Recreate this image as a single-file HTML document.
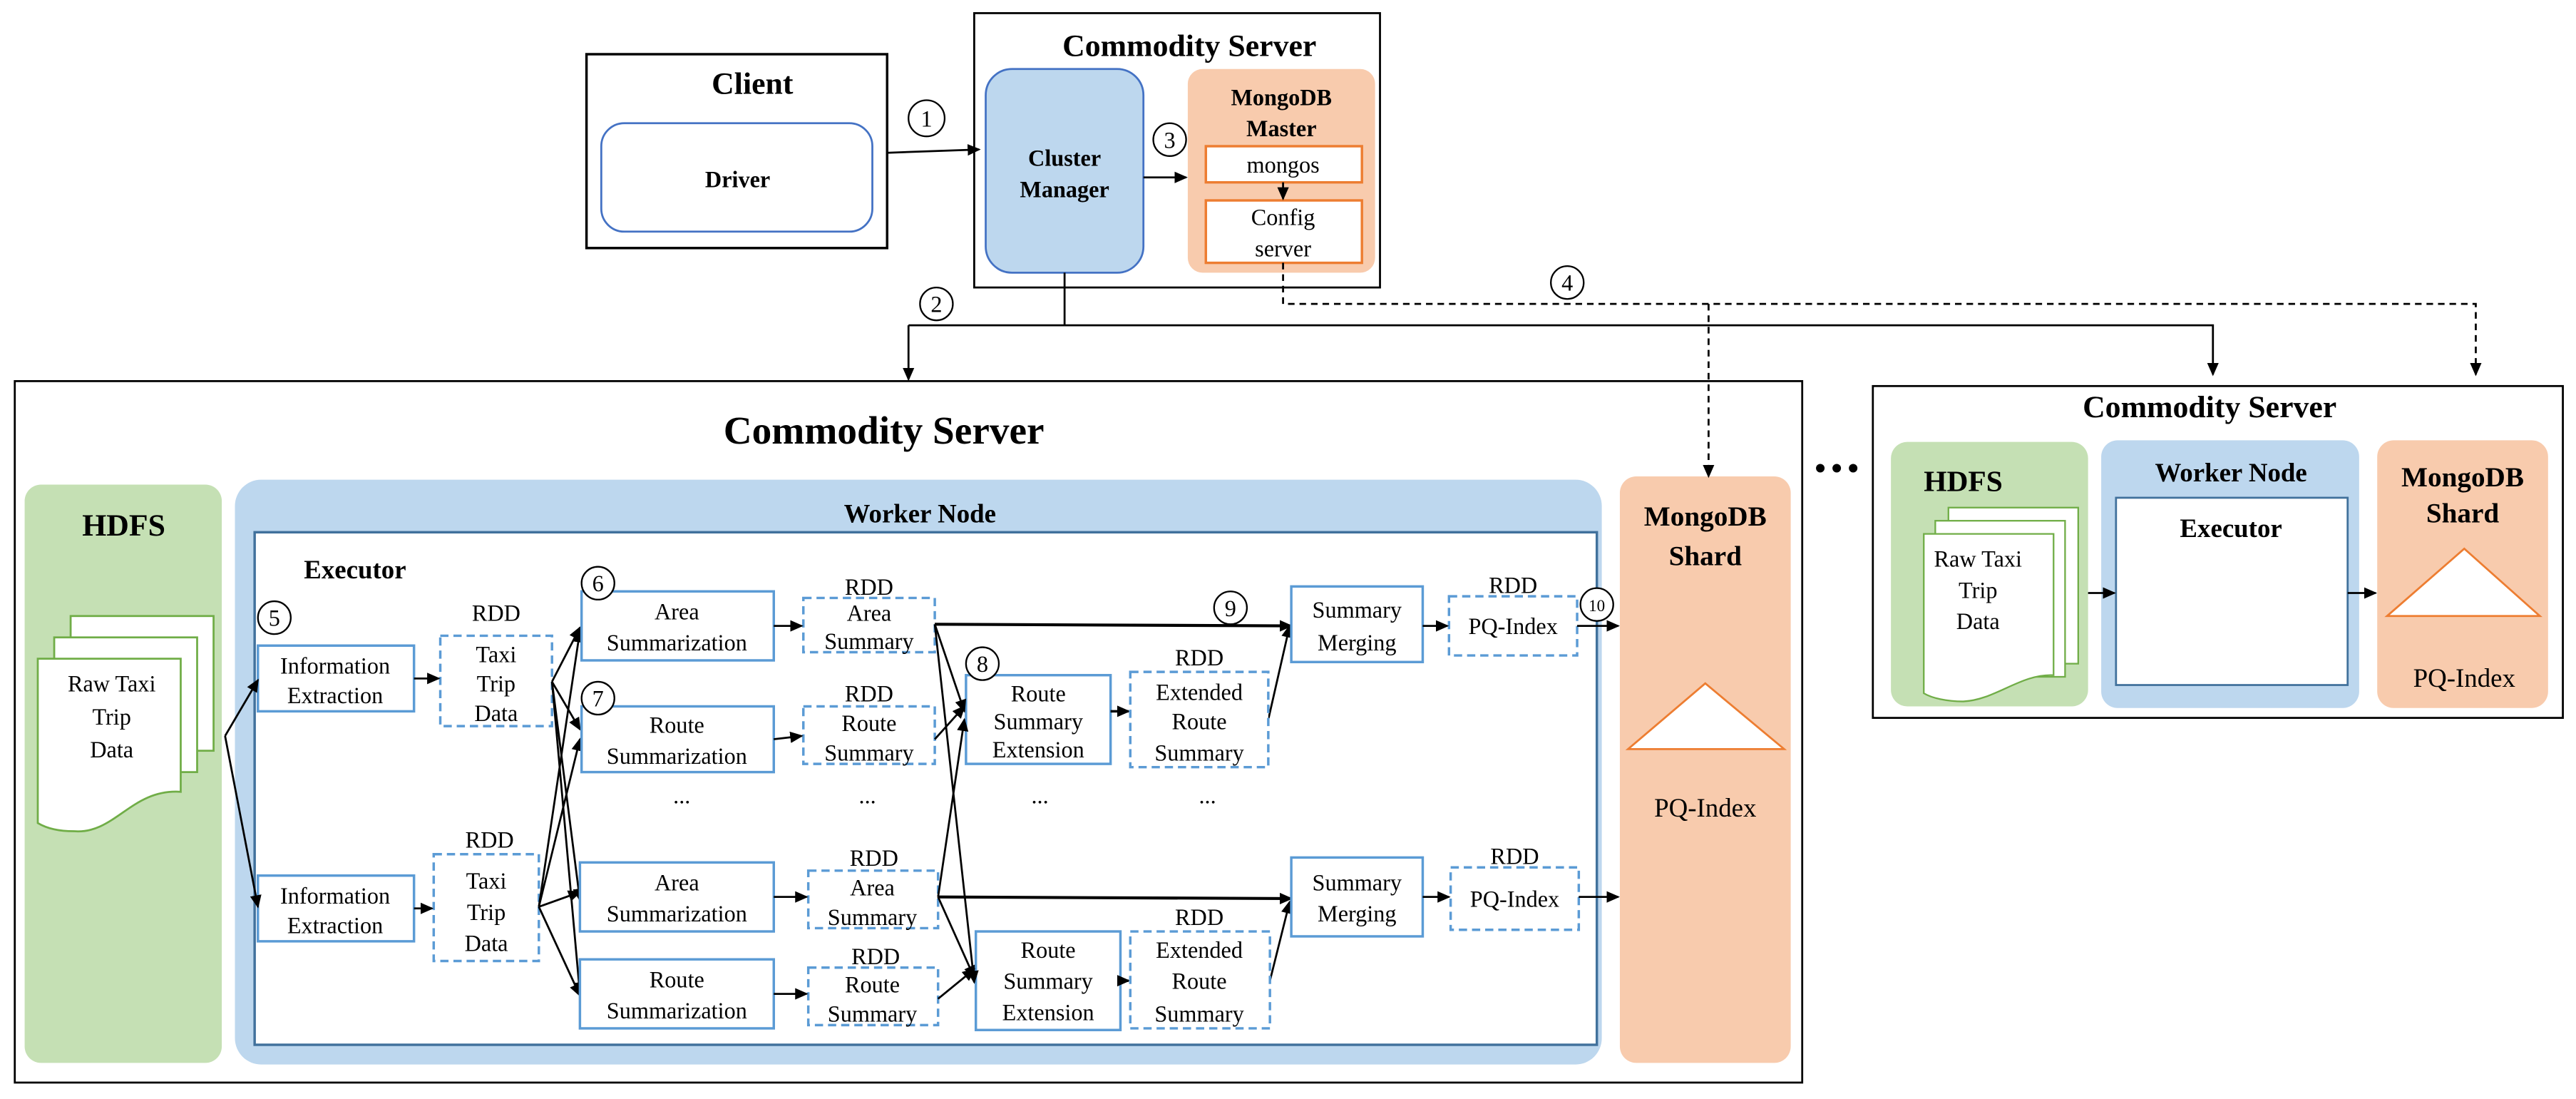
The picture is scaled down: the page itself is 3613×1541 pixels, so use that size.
<!DOCTYPE html>
<html><head><meta charset="utf-8"><style>
html,body{margin:0;padding:0;background:#fff;}
svg{display:block;}
svg text{font-family:"Liberation Serif","Times New Roman",serif;fill:#000;}
.b{font-weight:bold;}
.t{font-size:14px;text-anchor:middle;}
.bx{fill:#fff;stroke:#5B9BD5;stroke-width:1.5;}
.dx{fill:#fff;stroke:#5B9BD5;stroke-width:1.5;stroke-dasharray:5,3;}
.ln{stroke:#000;stroke-width:1.2;fill:none;}
.c{fill:#fff;stroke:#000;stroke-width:1;}
</style></head><body>
<svg width="3613" height="1541" viewBox="0 0 1568 669" preserveAspectRatio="none" xmlns="http://www.w3.org/2000/svg" font-family="'Liberation Serif', serif">
<defs><marker id="a" markerWidth="8" markerHeight="8" refX="7" refY="4" orient="auto" markerUnits="userSpaceOnUse"><path d="M0,0.5 L8,4 L0,7.5 z" fill="#000"/></marker></defs>

<!-- Client -->
<rect x="357" y="33" width="183" height="118" fill="#fff" stroke="#000" stroke-width="1.5"/>
<text x="458" y="57" class="b" font-size="19" text-anchor="middle">Client</text>
<rect x="366" y="75" width="165" height="66" rx="14" fill="#fff" stroke="#4472C4" stroke-width="1.2"/>
<text x="449" y="114" class="b t">Driver</text>

<!-- top server -->
<rect x="593" y="8" width="247" height="167" fill="#fff" stroke="#000" stroke-width="1.2"/>
<text x="724" y="34" class="b" font-size="19" text-anchor="middle">Commodity Server</text>
<rect x="600" y="42" width="96" height="124" rx="16" fill="#BDD7EE" stroke="#4472C4" stroke-width="1.2"/>
<text x="648" y="101" class="b t">Cluster</text>
<text x="648" y="120" class="b t">Manager</text>
<rect x="723" y="42" width="114" height="124" rx="9" fill="#F8CBAD"/>
<text x="780" y="64" class="b t">MongoDB</text>
<text x="780" y="83" class="b t">Master</text>
<rect x="734" y="89" width="95" height="22" fill="#fff" stroke="#ED7D31" stroke-width="1.5"/>
<text x="781" y="105" class="t">mongos</text>
<rect x="734" y="122" width="95" height="38" fill="#fff" stroke="#ED7D31" stroke-width="1.5"/>
<text x="781" y="137" class="t">Config</text>
<text x="781" y="156" class="t">server</text>
<line x1="781" y1="111" x2="781" y2="121" class="ln" marker-end="url(#a)"/>

<line x1="540" y1="93" x2="596" y2="91" class="ln" stroke-width="1.6" marker-end="url(#a)"/>
<circle cx="564" cy="72" r="11" class="c"/><text x="564" y="77" class="t">1</text>
<line x1="696" y1="108" x2="722" y2="108" class="ln" marker-end="url(#a)"/>
<circle cx="712" cy="85" r="10" class="c"/><text x="712" y="90" class="t">3</text>

<polyline points="648,166 648,198" class="ln"/>
<polyline points="553,198 1347,198 1347,228" class="ln" stroke-width="1.5" marker-end="url(#a)"/>
<line x1="553" y1="198" x2="553" y2="231" class="ln" stroke-width="1.5" marker-end="url(#a)"/>
<circle cx="570" cy="185" r="10" class="c"/><text x="570" y="190" class="t">2</text>
<polyline points="781,160 781,185 1507,185 1507,228" class="ln" stroke-dasharray="4,3" marker-end="url(#a)"/>
<circle cx="954" cy="172" r="10" class="c"/><text x="954" y="177" class="t">4</text>

<!-- main server -->
<rect x="9" y="232" width="1088" height="427" fill="#fff" stroke="#000" stroke-width="1.2"/>
<text x="538" y="270" class="b" font-size="24" text-anchor="middle">Commodity Server</text>
<rect x="15" y="295" width="120" height="352" rx="10" fill="#C5E0B4"/>
<text x="50" y="326" class="b" font-size="19">HDFS</text>
<g fill="#fff" stroke="#70AD47" stroke-width="1.2">
<rect x="43" y="375" width="87" height="82"/>
<rect x="33" y="388" width="87" height="82"/>
<path d="M23,401 H110 V482 C80,480 70,508 45,506 C35,506 28,504 23,501 Z"/>
</g>
<text x="68" y="421" class="t">Raw Taxi</text>
<text x="68" y="441" class="t">Trip</text>
<text x="68" y="461" class="t">Data</text>

<rect x="143" y="292" width="832" height="356" rx="16" fill="#BDD7EE"/>
<text x="560" y="318" class="b" font-size="16" text-anchor="middle">Worker Node</text>
<rect x="155" y="324" width="817" height="312" fill="#fff" stroke="#41719C" stroke-width="1.5"/>
<text x="185" y="352" class="b" font-size="16">Executor</text>

<rect x="986" y="290" width="104" height="357" rx="10" fill="#F8CBAD"/>
<text x="1038" y="320" class="b" font-size="17" text-anchor="middle">MongoDB</text>
<text x="1038" y="344" class="b" font-size="17" text-anchor="middle">Shard</text>
<path d="M1038,416 L1086,456 L991,456 Z" fill="#fff" stroke="#ED7D31" stroke-width="1.2"/>
<text x="1038" y="497" font-size="16" text-anchor="middle">PQ-Index</text>

<line x1="1040" y1="185" x2="1040" y2="290" class="ln" stroke-dasharray="4,3" marker-end="url(#a)"/>

<!-- executor content -->
<circle cx="167" cy="376" r="10" class="c"/><text x="167" y="381" class="t">5</text>
<rect x="157" y="393" width="95" height="40" class="bx"/>
<text x="204" y="410" class="t">Information</text><text x="204" y="428" class="t">Extraction</text>
<rect x="157" y="533" width="95" height="40" class="bx"/>
<text x="204" y="550" class="t">Information</text><text x="204" y="568" class="t">Extraction</text>
<line x1="137" y1="448" x2="157" y2="414" class="ln" marker-end="url(#a)"/>
<line x1="137" y1="448" x2="157" y2="552" class="ln" marker-end="url(#a)"/>

<text x="302" y="378" class="t">RDD</text>
<rect x="268" y="387" width="68" height="55" class="dx"/>
<text x="302" y="403" class="t">Taxi</text><text x="302" y="421" class="t">Trip</text><text x="302" y="439" class="t">Data</text>
<text x="298" y="516" class="t">RDD</text>
<rect x="264" y="520" width="64" height="65" class="dx"/>
<text x="296" y="541" class="t">Taxi</text><text x="296" y="560" class="t">Trip</text><text x="296" y="579" class="t">Data</text>
<line x1="252" y1="413" x2="267" y2="413" class="ln" stroke-width="1.5" marker-end="url(#a)"/>
<line x1="252" y1="553" x2="263" y2="553" class="ln" stroke-width="1.5" marker-end="url(#a)"/>

<g class="ln">
<line x1="336" y1="415" x2="353" y2="382" marker-end="url(#a)"/>
<line x1="336" y1="415" x2="353" y2="444" marker-end="url(#a)"/>
<line x1="336" y1="415" x2="353" y2="548" marker-end="url(#a)"/>
<line x1="336" y1="415" x2="353" y2="605" marker-end="url(#a)"/>
<line x1="328" y1="552" x2="353" y2="384" marker-end="url(#a)"/>
<line x1="328" y1="552" x2="353" y2="450" marker-end="url(#a)"/>
<line x1="328" y1="552" x2="353" y2="543" marker-end="url(#a)"/>
<line x1="328" y1="552" x2="353" y2="606" marker-end="url(#a)"/>
</g>

<rect x="354" y="360" width="117" height="42" class="bx"/>
<text x="412" y="377" class="t">Area</text><text x="412" y="396" class="t">Summarization</text>
<rect x="354" y="430" width="117" height="40" class="bx"/>
<text x="412" y="446" class="t">Route</text><text x="412" y="465" class="t">Summarization</text>
<rect x="353" y="525" width="118" height="42" class="bx"/>
<text x="412" y="542" class="t">Area</text><text x="412" y="561" class="t">Summarization</text>
<rect x="353" y="584" width="118" height="42" class="bx"/>
<text x="412" y="601" class="t">Route</text><text x="412" y="620" class="t">Summarization</text>
<circle cx="364" cy="355" r="10" class="c"/><text x="364" y="360" class="t">6</text>
<circle cx="364" cy="425" r="10" class="c"/><text x="364" y="430" class="t">7</text>
<text x="415" y="489" class="t">...</text><text x="528" y="489" class="t">...</text><text x="633" y="489" class="t">...</text><text x="735" y="489" class="t">...</text>

<text x="529" y="362" class="t">RDD</text>
<rect x="489" y="364" width="80" height="33" class="dx"/>
<text x="529" y="378" class="t">Area</text><text x="529" y="395" class="t">Summary</text>
<text x="529" y="427" class="t">RDD</text>
<rect x="489" y="430" width="80" height="35" class="dx"/>
<text x="529" y="445" class="t">Route</text><text x="529" y="463" class="t">Summary</text>
<text x="532" y="527" class="t">RDD</text>
<rect x="492" y="530" width="79" height="35" class="dx"/>
<text x="531" y="545" class="t">Area</text><text x="531" y="563" class="t">Summary</text>
<text x="533" y="587" class="t">RDD</text>
<rect x="492" y="589" width="79" height="35" class="dx"/>
<text x="531" y="604" class="t">Route</text><text x="531" y="622" class="t">Summary</text>

<g class="ln" stroke-width="1.5">
<line x1="471" y1="381" x2="488" y2="381" marker-end="url(#a)"/>
<line x1="471" y1="450" x2="488" y2="448" marker-end="url(#a)"/>
<line x1="471" y1="546" x2="491" y2="546" marker-end="url(#a)"/>
<line x1="471" y1="605" x2="491" y2="605" marker-end="url(#a)"/>
</g>

<rect x="588" y="411" width="88" height="54" class="bx"/>
<text x="632" y="427" class="t">Route</text><text x="632" y="444" class="t">Summary</text><text x="632" y="461" class="t">Extension</text>
<rect x="594" y="567" width="88" height="60" class="bx"/>
<text x="638" y="583" class="t">Route</text><text x="638" y="602" class="t">Summary</text><text x="638" y="621" class="t">Extension</text>
<circle cx="598" cy="404" r="10" class="c"/><text x="598" y="409" class="t">8</text>

<g class="ln">
<line x1="569" y1="380" x2="786" y2="381" stroke-width="1.8" marker-end="url(#a)"/>
<line x1="571" y1="546" x2="786" y2="547" stroke-width="1.8" marker-end="url(#a)"/>
<line x1="569" y1="380" x2="587" y2="433" marker-end="url(#a)"/>
<line x1="569" y1="380" x2="593" y2="598" marker-end="url(#a)"/>
<line x1="569" y1="450" x2="587" y2="430" marker-end="url(#a)"/>
<line x1="571" y1="546" x2="587" y2="438" marker-end="url(#a)"/>
<line x1="571" y1="546" x2="593" y2="595" marker-end="url(#a)"/>
<line x1="571" y1="608" x2="593" y2="590" marker-end="url(#a)"/>
<line x1="676" y1="433" x2="687" y2="433" stroke-width="1.5" marker-end="url(#a)"/>
<line x1="682" y1="597" x2="687" y2="597" stroke-width="1.5" marker-end="url(#a)"/>
<line x1="772" y1="438" x2="785" y2="381" marker-end="url(#a)"/>
<line x1="773" y1="597" x2="785" y2="549" marker-end="url(#a)"/>
</g>

<text x="730" y="405" class="t">RDD</text>
<rect x="688" y="409" width="84" height="58" class="dx"/>
<text x="730" y="426" class="t">Extended</text><text x="730" y="444" class="t">Route</text><text x="730" y="463" class="t">Summary</text>
<text x="730" y="563" class="t">RDD</text>
<rect x="688" y="567" width="85" height="59" class="dx"/>
<text x="730" y="583" class="t">Extended</text><text x="730" y="602" class="t">Route</text><text x="730" y="622" class="t">Summary</text>

<circle cx="749" cy="370" r="10" class="c"/><text x="749" y="375" class="t">9</text>
<rect x="786" y="357" width="80" height="46" class="bx"/>
<text x="826" y="376" class="t">Summary</text><text x="826" y="396" class="t">Merging</text>
<rect x="786" y="522" width="80" height="48" class="bx"/>
<text x="826" y="542" class="t">Summary</text><text x="826" y="561" class="t">Merging</text>

<text x="921" y="361" class="t">RDD</text>
<rect x="882" y="363" width="78" height="36" class="dx"/>
<text x="921" y="386" class="t">PQ-Index</text>
<text x="922" y="526" class="t">RDD</text>
<rect x="883" y="528" width="78" height="38" class="dx"/>
<text x="922" y="552" class="t">PQ-Index</text>
<g class="ln" stroke-width="1.5">
<line x1="866" y1="381" x2="881" y2="381" marker-end="url(#a)"/>
<line x1="866" y1="546" x2="882" y2="546" marker-end="url(#a)"/>
<line x1="960" y1="381" x2="985" y2="381" marker-end="url(#a)"/>
<line x1="961" y1="546" x2="985" y2="546" marker-end="url(#a)"/>
</g>
<circle cx="972" cy="368" r="10" class="c"/><text x="972" y="372" font-size="10" text-anchor="middle">10</text>

<!-- dots -->
<circle cx="1108" cy="285" r="2.6" fill="#000"/><circle cx="1118" cy="285" r="2.6" fill="#000"/><circle cx="1128" cy="285" r="2.6" fill="#000"/>

<!-- right server -->
<rect x="1140" y="235" width="420" height="202" fill="#fff" stroke="#000" stroke-width="1.2"/>
<text x="1345" y="254" class="b" font-size="19" text-anchor="middle">Commodity Server</text>
<rect x="1151" y="269" width="120" height="161" rx="10" fill="#C5E0B4"/>
<text x="1171" y="299" class="b" font-size="18">HDFS</text>
<g fill="#fff" stroke="#70AD47" stroke-width="1">
<rect x="1186" y="309" width="79" height="95"/>
<rect x="1178" y="317" width="79" height="95"/>
<path d="M1171,325 H1250 V411 C1230,410 1215,426 1195,427 C1185,427 1176,425 1171,422 Z"/>
</g>
<text x="1204" y="345" class="t">Raw Taxi</text><text x="1204" y="364" class="t">Trip</text><text x="1204" y="383" class="t">Data</text>
<rect x="1279" y="268" width="157" height="163" rx="10" fill="#BDD7EE"/>
<text x="1358" y="293" class="b" font-size="16" text-anchor="middle">Worker Node</text>
<rect x="1288" y="303" width="141" height="114" fill="#fff" stroke="#41719C" stroke-width="1.2"/>
<text x="1358" y="327" class="b" font-size="16" text-anchor="middle">Executor</text>
<rect x="1447" y="268" width="104" height="163" rx="10" fill="#F8CBAD"/>
<text x="1499" y="296" class="b" font-size="17" text-anchor="middle">MongoDB</text>
<text x="1499" y="318" class="b" font-size="17" text-anchor="middle">Shard</text>
<path d="M1500,334 L1546,375 L1453,375 Z" fill="#fff" stroke="#ED7D31" stroke-width="1.2"/>
<text x="1500" y="418" font-size="16" text-anchor="middle">PQ-Index</text>
<line x1="1271" y1="361" x2="1287" y2="361" class="ln" stroke-width="1.5" marker-end="url(#a)"/>
<line x1="1429" y1="361" x2="1446" y2="361" class="ln" stroke-width="1.5" marker-end="url(#a)"/>
</svg>
</body></html>
